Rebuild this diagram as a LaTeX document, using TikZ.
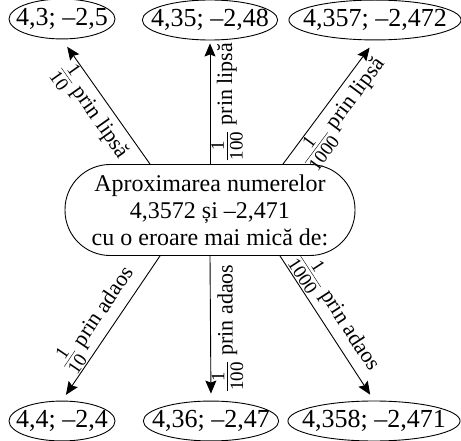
\documentclass[tikz,border=0pt]{standalone}
\usepackage{fontspec}
\setmainfont{Liberation Serif}
\usetikzlibrary{arrows.meta,positioning,shapes.geometric}

% small fraction set in the text font
\newcommand{\fractie}[2]{$\frac{\mbox{\fontsize{19}{19}\selectfont #1\rule[-2pt]{0pt}{2pt}}}{\mbox{\fontsize{19}{19}\selectfont\rule{0pt}{15pt}#2}}$}

\tikzset{
  valoare/.style={draw, ellipse, line width=0.9pt, inner xsep=-11pt, inner ysep=3.5pt,
    minimum width=106pt, font=\fontsize{26}{28}\selectfont},
  cadru/.style={draw, rectangle, rounded corners=45pt, line width=0.9pt,
    minimum width=290pt, minimum height=91pt, align=center,
    font=\fontsize{24}{27}\selectfont},
  sageata/.style={line width=0.9pt, -{Stealth[length=13pt,width=11pt,inset=2pt]}},
  eticheta/.style={sloped, pos=0.5, font=\fontsize{22}{24}\selectfont, inner sep=1pt},
}

\begin{document}
\begin{tikzpicture}[x=1pt, y=-1pt]
\useasboundingbox (0,0) rectangle (461,441);

% the question in the middle
\node[cadru] (centru) at (210,210) {Aproximarea numerelor\\4,3572 și –2,471\\cu o eroare mai mică de:};

% by default (prin lipsa)
\node[valoare] (l1) at (62,19)  {4,3; –2,5};
\node[valoare] (l2) at (210,20) {4,35; –2,48};
\node[valoare] (l3) at (375,20) {4,357; –2,472};
% by excess (prin adaos)
\node[valoare] (a1) at (62,421)  {4,4; –2,4};
\node[valoare] (a2) at (211,421) {4,36; –2,47};
\node[valoare] (a3) at (374,421) {4,358; –2,471};

% upward arrows
\draw[sageata, shorten >=9pt] ([xshift=-60pt]centru.north) -- (l1.south)
  node[eticheta, below] {\fractie{1}{10} prin lipsă};
\draw[sageata, shorten >=3pt] (centru.north) -- (l2.south)
  node[eticheta, below] {\fractie{1}{100} prin lipsă};
\draw[sageata, shorten >=9pt] ([xshift=73pt]centru.north) -- (l3.south)
  node[eticheta, below] {\fractie{1}{1000} prin lipsă};

% downward arrows
\draw[sageata, shorten >=7pt] ([xshift=-50pt]centru.south) -- (a1.north)
  node[eticheta, above] {\fractie{1}{10} prin adaos};
\draw[sageata, shorten >=7pt] (centru.south) -- (a2.north)
  node[pos=0.5, rotate=90, anchor=north, font=\fontsize{22}{24}\selectfont, inner sep=1pt] {\fractie{1}{100} prin adaos};
\draw[sageata, shorten >=7pt] ([xshift=70pt]centru.south) -- (a3.north)
  node[eticheta, above, pos=0.45] {\fractie{1}{1000} prin adaos};

\end{tikzpicture}
\end{document}
